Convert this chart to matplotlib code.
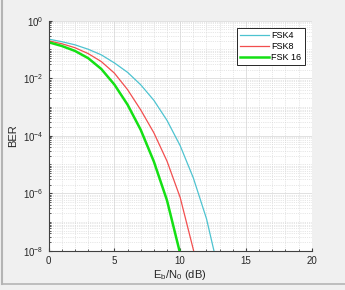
import numpy as np
import matplotlib
matplotlib.use('Agg')
import matplotlib.pyplot as plt
from matplotlib.ticker import MultipleLocator, LogLocator, FixedLocator, NullFormatter
from matplotlib.lines import Line2D

plt.rcParams['font.family'] = ['Liberation Sans', 'DejaVu Sans']
plt.rcParams['mathtext.default'] = 'regular'

# Eb/N0 (dB) and BER values
ebn0_4 = [0, 1, 2, 3, 4, 5, 6, 7, 8, 9, 10, 11, 12, 13]
ber_fsk4 = [2.29e-1, 1.86e-1, 1.45e-1, 1.02e-1, 6.5e-2, 3.4e-2, 1.6e-2,
            5.9e-3, 1.7e-3, 3.4e-4, 4.5e-5, 3.4e-6, 1.3e-7, 1.4e-9]

ebn0_8 = [0, 1, 2, 3, 4, 5, 6, 7, 8, 9, 10, 11, 12]
ber_fsk8 = [2.0e-1, 1.58e-1, 1.15e-1, 7.2e-2, 3.8e-2, 1.5e-2, 4.0e-3,
            7.9e-4, 1.26e-4, 1.3e-5, 7.1e-7, 1.1e-8, 1.0e-10]

ebn0_16 = [0, 1, 2, 3, 4, 5, 6, 7, 8, 9, 10, 11]
ber_fsk16 = [1.78e-1, 1.32e-1, 8.9e-2, 5.0e-2, 2.1e-2, 6.0e-3, 1.2e-3,
             1.6e-4, 1.26e-5, 5.6e-7, 7.9e-9, 5.0e-11]

labels = ['FSK4', 'FSK8', 'FSK 16']
ytick_vals = [1e0, 1e-2, 1e-4, 1e-6, 1e-8]
ytick_labels = ['$10^{0}$', '$10^{-2}$', '$10^{-4}$', '$10^{-6}$', '$10^{-8}$']

fig = plt.figure(figsize=(3.45, 2.90), dpi=100, facecolor='#f0f0f0')
ax = fig.add_axes([0.141, 0.1355, 0.7625, 0.7931])
ax.set_facecolor('white')

ax.semilogy(ebn0_4, ber_fsk4, color='#4dc3d0', lw=0.9, label=labels[0])
ax.semilogy(ebn0_8, ber_fsk8, color='#f24e4e', lw=0.9, label=labels[1])
ax.semilogy(ebn0_16, ber_fsk16, color='#14e014', lw=1.8, label=labels[2])

ax.set_xlim(0, 20)
ax.set_ylim(1e-8, 1e0)
ax.xaxis.set_major_locator(MultipleLocator(5))
ax.xaxis.set_minor_locator(MultipleLocator(1))
ax.yaxis.set_major_locator(FixedLocator(ytick_vals))
ax.set_yticklabels(ytick_labels)
ax.yaxis.set_minor_locator(LogLocator(base=10, subs=np.arange(1, 10), numticks=20))
ax.yaxis.set_minor_formatter(NullFormatter())

ax.grid(True, which='major', color='#dcdcdc', lw=0.6, ls='-')
ax.grid(True, which='minor', color='#d0d0d0', lw=0.5, ls=':')
ax.set_axisbelow(True)

for s in ['top', 'right']:
    ax.spines[s].set_visible(False)
for s in ['left', 'bottom']:
    ax.spines[s].set_color('#404040')
    ax.spines[s].set_linewidth(0.8)

ax.tick_params(which='both', direction='in', colors='#404040', labelsize=7,
               labelcolor='#262626', length=2.5)
ax.tick_params(which='minor', length=1.5)

ax.set_xlabel('$E_b/N_0$ (dB)', fontsize=8, color='#262626', labelpad=2)
ax.set_ylabel('BER', fontsize=8, color='#262626', labelpad=4)

leg = ax.legend(loc='upper right', fontsize=6.5, fancybox=False, framealpha=1,
                edgecolor='#262626', handlelength=3.2, borderpad=0.4,
                labelspacing=0.2, handletextpad=0.25, borderaxespad=0,
                bbox_to_anchor=(0.975, 0.97))
leg.get_frame().set_linewidth(0.7)

# window frame of the screenshot
fig.add_artist(Line2D([0.006, 0.006], [0.02, 1.0], color='#b4b4b4', lw=1.5,
                      transform=fig.transFigure))
fig.add_artist(Line2D([0.006, 1.0], [0.02, 0.02], color='#b4b4b4', lw=1.2,
                      transform=fig.transFigure))

fig.savefig('out.png', dpi=100, facecolor=fig.get_facecolor())
